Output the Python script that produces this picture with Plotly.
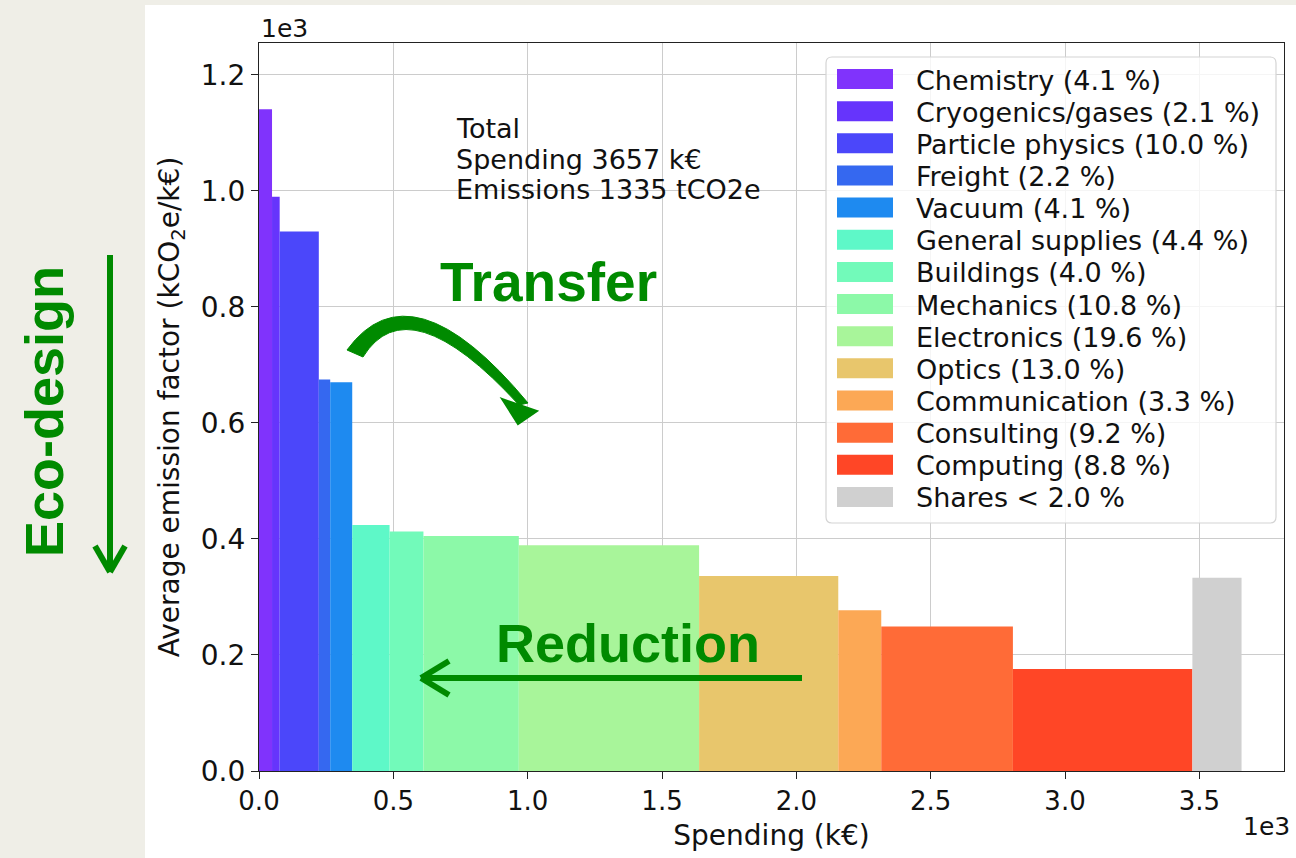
import numpy as np
import plotly.graph_objects as go

# ---------------- data ----------------
categories = ["Chemistry", "Cryogenics/gases", "Particle physics", "Freight", "Vacuum",
              "General supplies", "Buildings", "Mechanics", "Electronics", "Optics",
              "Communication", "Consulting", "Computing", "Shares"]
legend_labels = ["Chemistry (4.1 %)", "Cryogenics/gases (2.1 %)", "Particle physics (10.0 %)",
                 "Freight (2.2 %)", "Vacuum (4.1 %)", "General supplies (4.4 %)",
                 "Buildings (4.0 %)", "Mechanics (10.8 %)", "Electronics (19.6 %)",
                 "Optics (13.0 %)", "Communication (3.3 %)", "Consulting (9.2 %)",
                 "Computing (8.8 %)", "Shares < 2.0 %"]
spending_keur = [48.5, 28.5, 145.6, 42.4, 82, 139, 126, 355, 671, 518, 160, 490, 668, 183]
emission_factor = [1141, 990, 930, 675, 670, 424, 413, 405, 389, 336, 277, 249, 176, 333]
colors = ["#8033FC", "#6634FC", "#4B47FA", "#3568F0", "#1E8AF0", "#5EF8C8", "#72FABA",
          "#8CF9A8", "#A8F59A", "#E8C66C", "#FCA855", "#FF6B37", "#FF4626", "#D0D0D0"]
x_tick_vals = [0, 500, 1000, 1500, 2000, 2500, 3000, 3500]
x_tick_labels = ["0.0", "0.5", "1.0", "1.5", "2.0", "2.5", "3.0", "3.5"]
y_tick_vals = [0, 200, 400, 600, 800, 1000, 1200]
y_tick_labels = ["0.0", "0.2", "0.4", "0.6", "0.8", "1.0", "1.2"]
summary_lines = ["Total", "Spending 3657 k€", "Emissions 1335 tCO2e"]

# ---------------- figure ----------------
W, H = 1296, 858
L, R, T, B = 259, 1284, 43, 771   # plot area in pixels
def px(X):
    return (X - L) / (R - L)
def py(Y):
    return (B - Y) / (B - T)
def P(X, Y):
    return f"{px(X):.5f},{py(Y):.5f}"

widths = np.array(spending_keur, dtype=float)
lefts = np.concatenate([[0.0], np.cumsum(widths)[:-1]])
centers = lefts + widths / 2

fig = go.Figure()
for i, lab in enumerate(legend_labels):
    fig.add_trace(go.Bar(
        x=[centers[i]], y=[emission_factor[i]], width=[widths[i]],
        name=lab, marker=dict(color=colors[i], line=dict(width=0)),
        showlegend=False,
    ))

BEIGE = "#EFEEE7"
GREEN = "#008A00"
TXT = "#111111"
FONT = "DejaVu Sans"
GFONT = "Liberation Sans"

def seg(x0, y0, x1, y1, w=6):
    return dict(type="line", xref="paper", yref="paper",
                x0=px(x0), y0=py(y0), x1=px(x1), y1=py(y1),
                line=dict(color=GREEN, width=w))

shapes = [
    dict(type="rect", xref="paper", yref="paper", layer="below",
         x0=px(145), x1=px(1300), y0=py(862), y1=py(5),
         fillcolor="white", line=dict(width=0)),
    # Eco-design arrow (shaft + open head)
    seg(110, 255, 110, 570), seg(110, 572, 95, 546), seg(110, 572, 125, 546),
    # Reduction arrow (shaft + open head)
    seg(424, 678, 802, 678), seg(421, 678, 449, 661), seg(421, 678, 449, 695),
]

# curved "Transfer" arrow
body = (f"M {P(347,350)} Q {P(411,262)} {P(528,403)} "
        f"L {P(519,405)} Q {P(408,284)} {P(363,357)} Z")
head = f"M {P(502,399)} L {P(537,411)} L {P(518,424)} Z"
shapes += [
    dict(type="path", xref="paper", yref="paper", path=body,
         fillcolor=GREEN, line=dict(color=GREEN, width=1)),
    dict(type="path", xref="paper", yref="paper", path=head,
         fillcolor=GREEN, line=dict(color=GREEN, width=2)),
]

# legend box (rounded) drawn as a path
bx0, bx1, by0, by1, rr = 826, 1276, 57, 523, 6
box = (f"M {P(bx0+rr,by0)} L {P(bx1-rr,by0)} Q {P(bx1,by0)} {P(bx1,by0+rr)} "
       f"L {P(bx1,by1-rr)} Q {P(bx1,by1)} {P(bx1-rr,by1)} "
       f"L {P(bx0+rr,by1)} Q {P(bx0,by1)} {P(bx0,by1-rr)} "
       f"L {P(bx0,by0+rr)} Q {P(bx0,by0)} {P(bx0+rr,by0)} Z")
shapes.append(dict(type="path", xref="paper", yref="paper", path=box,
                   fillcolor="rgba(255,255,255,0.8)", line=dict(color="#d4d4d4", width=1.2)))

annotations = []
row0, row_step = 79, 32.15
for i, lab in enumerate(legend_labels):
    yc = row0 + i * row_step
    shapes.append(dict(type="rect", xref="paper", yref="paper",
                       x0=px(837), x1=px(893), y0=py(yc + 10), y1=py(yc - 10),
                       fillcolor=colors[i], line=dict(width=0)))
    annotations.append(dict(text=lab, xref="paper", yref="paper", x=px(914), y=py(yc + 1),
                            xanchor="left", yanchor="middle", showarrow=False,
                            font=dict(family=FONT, size=27, color=TXT)))

for j, line in enumerate(summary_lines):
    annotations.append(dict(text=line, xref="paper", yref="paper", x=px(454),
                            y=py(128 + j * 31), xanchor="left", yanchor="middle",
                            showarrow=False, font=dict(family=FONT, size=27, color=TXT)))

annotations += [
    dict(text="1e3", xref="paper", yref="paper", x=px(259), y=py(28), xanchor="left",
         yanchor="middle", showarrow=False, font=dict(family=FONT, size=25, color=TXT)),
    dict(text="1e3", xref="paper", yref="paper", x=px(1292), y=py(826), xanchor="right",
         yanchor="middle", showarrow=False, font=dict(family=FONT, size=25, color=TXT)),
    dict(text="<b>Transfer</b>", xref="paper", yref="paper", x=px(548), y=py(282),
         xanchor="center", yanchor="middle", showarrow=False,
         font=dict(family=GFONT, size=55, color=GREEN)),
    dict(text="<b>Reduction</b>", xref="paper", yref="paper", x=px(628), y=py(643),
         xanchor="center", yanchor="middle", showarrow=False,
         font=dict(family=GFONT, size=54, color=GREEN)),
    dict(text="<b>Eco-design</b>", xref="paper", yref="paper", x=px(44), y=py(412),
         xanchor="center", yanchor="middle", textangle=-90, showarrow=False,
         font=dict(family=GFONT, size=54, color=GREEN)),
]

axis_common = dict(
    showline=True, linecolor="#222222", linewidth=1.2, mirror=True,
    ticks="outside", ticklen=7, tickwidth=1.2, tickcolor="#222222",
    showgrid=True, gridcolor="#cccccc", gridwidth=1.2, zeroline=False,
)

fig.update_layout(
    width=W, height=H,
    margin=dict(l=L, r=W - R, t=T, b=H - B, pad=0),
    paper_bgcolor=BEIGE, plot_bgcolor="white",
    barmode="overlay", showlegend=False,
    xaxis=dict(range=[0, 3815], tickvals=x_tick_vals, ticktext=x_tick_labels,
               tickfont=dict(family=FONT, size=26, color=TXT),
               title=dict(text="Spending (k€)", font=dict(family=FONT, size=28, color=TXT),
                          standoff=10),
               **axis_common),
    yaxis=dict(range=[0, 1255], tickvals=y_tick_vals, ticktext=y_tick_labels,
               tickfont=dict(family=FONT, size=28, color=TXT),
               title=dict(text="Average emission factor (kCO<sub>2</sub>e/k€)",
                          font=dict(family=FONT, size=28, color=TXT), standoff=12),
               **axis_common),
    shapes=shapes, annotations=annotations,
)

fig.write_html("out.html", config={"displayModeBar": False},
               post_script="document.body.style.margin='0';")
